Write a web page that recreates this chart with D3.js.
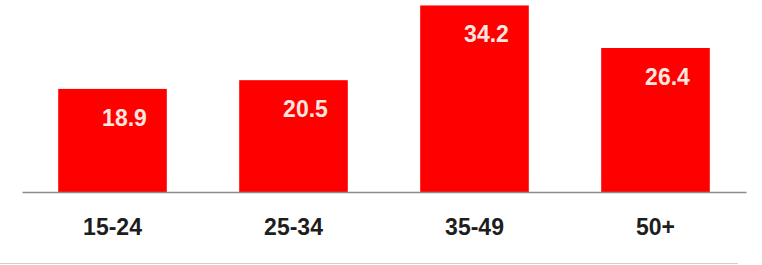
<!DOCTYPE html>
<html>
<head>
<meta charset="utf-8">
<script src="https://cdn.jsdelivr.net/npm/d3@7"></script>
<style>
  body { margin: 0; background: #fff; }
  svg { display: block; }
</style>
</head>
<body>
<div id="chart"></div>
<script>
// chart data
var categories = ["15-24", "25-34", "35-49", "50+"];
var values = [18.9, 20.5, 34.2, 26.4];

var svgWidth = 762;
var svgHeight = 265;
var baseY = 192;

var svg = d3.select("#chart")
  .append("svg")
  .attr("width", svgWidth)
  .attr("height", svgHeight);

var xScale = d3.scaleBand()
  .domain(categories)
  .range([22, 746])
  .paddingInner(0.4)
  .paddingOuter(0.2);

var yScale = d3.scaleLinear()
  .domain([0, 35.2])
  .range([baseY, 0]);

var data = categories.map(function(c, i) {
  return { cat: c, value: values[i] };
});

// bars
svg.selectAll(".bar")
  .data(data)
  .enter()
  .append("rect")
  .attr("class", "bar")
  .attr("x", d => xScale(d.cat))
  .attr("y", d => yScale(d.value))
  .attr("width", xScale.bandwidth())
  .attr("height", d => baseY - yScale(d.value))
  .attr("fill", "#ff0000");

// x axis (line only, labels below)
var xAxis = svg.append("g")
  .attr("transform", `translate(0, ${baseY})`)
  .call(d3.axisBottom(xScale).tickSize(0).tickPadding(0));

xAxis.select(".domain")
  .attr("stroke", "#8c8c8c")
  .attr("stroke-width", 1.5);

xAxis.selectAll(".tick text")
  .attr("y", 43)
  .attr("dy", 0)
  .attr("font-family", "'Liberation Sans', Arial, sans-serif")
  .attr("font-weight", "bold")
  .attr("font-size", "23px")
  .attr("fill", "#1e1e1e");

// value labels
svg.selectAll(".valueLabel")
  .data(data)
  .enter()
  .append("text")
  .attr("class", "valueLabel")
  .attr("x", d => xScale(d.cat) + xScale.bandwidth() / 2 + 12)
  .attr("y", d => yScale(d.value) + 37)
  .attr("text-anchor", "middle")
  .attr("font-family", "'Liberation Sans', Arial, sans-serif")
  .attr("font-weight", "bold")
  .attr("font-size", "23px")
  .attr("fill", "#fde6df")
  .text(d => d.value.toFixed(1));

// bottom frame line
svg.append("line")
  .attr("x1", 0)
  .attr("x2", 738)
  .attr("y1", 263.5)
  .attr("y2", 263.5)
  .attr("stroke", "#d0d0d0")
  .attr("stroke-width", 1);
</script>
</body>
</html>
